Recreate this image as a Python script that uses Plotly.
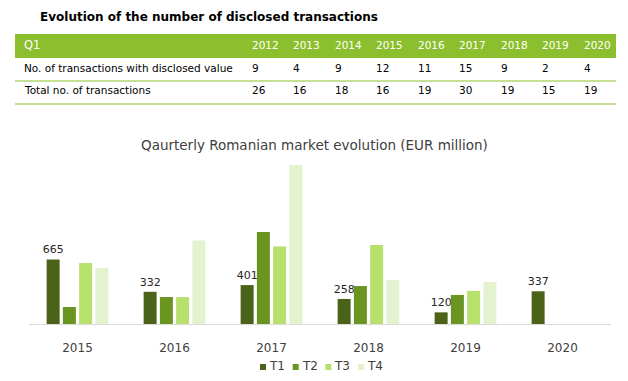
import plotly.graph_objects as go

# ---------------- data ----------------
table_years = ["2012", "2013", "2014", "2015", "2016", "2017", "2018", "2019", "2020"]
disclosed_value = [9, 4, 9, 12, 11, 15, 9, 2, 4]
total_transactions = [26, 16, 18, 16, 19, 30, 19, 15, 19]

chart_years = ["2015", "2016", "2017", "2018", "2019", "2020"]
t1 = [665, 332, 401, 258, 120, 337]
t2 = [175, 278, 948, 391, 299, None]
t3 = [628, 278, 799, 814, 340, None]
t4 = [577, 861, 1638, 453, 432, None]
quarters = ["T1", "T2", "T3", "T4"]
colors = ["#4b6319", "#6b9521", "#b8e06c", "#e4f2cf"]

# ---------------- layout geometry ----------------
W, H = 628, 381
L, R, T, B = 29, 611, 159, 324


def px(x):
    return (x - L) / (R - L)


def py(y):
    return (B - y) / (B - T)


FONT = "DejaVu Sans"
fig = go.Figure()

for name, vals, col in zip(quarters, [t1, t2, t3, t4], colors):
    fig.add_trace(go.Bar(
        x=chart_years, y=vals, name=name, marker=dict(color=col, line=dict(width=0)),
        text=[str(v) if v is not None else "" for v in vals] if name == "T1" else None,
        textposition="outside" if name == "T1" else None,
        textfont=dict(family=FONT, size=11, color="#262626"),
        constraintext="none",
        cliponaxis=False,
        showlegend=False,
    ))

annotations = []
shapes = []

# Table title
annotations.append(dict(x=px(38), y=py(17), xref="paper", yref="paper", xanchor="left", yanchor="middle",
                        text="<b>Evolution of the number of disclosed transactions</b>", showarrow=False,
                        font=dict(family=FONT, size=12, color="#000000")))
# header band
GREEN = "#8cbf2d"
shapes.append(dict(type="rect", xref="paper", yref="paper", x0=px(15), x1=px(616), y0=py(58), y1=py(34),
                   fillcolor=GREEN, line=dict(width=0), layer="below"))
for yline in (81, 104):
    shapes.append(dict(type="line", xref="paper", yref="paper", x0=px(15), x1=px(616), y0=py(yline), y1=py(yline),
                       line=dict(color=GREEN, width=1)))

col_x = [250, 291, 333, 374, 416, 457, 499, 540, 582]
annotations.append(dict(x=px(22), y=py(45), xref="paper", yref="paper", xanchor="left", yanchor="middle",
                        text="Q1", showarrow=False, font=dict(family=FONT, size=11.5, color="white")))
for cx, yr in zip(col_x, table_years):
    annotations.append(dict(x=px(cx), y=py(45), xref="paper", yref="paper", xanchor="left", yanchor="middle",
                            text=yr, showarrow=False, font=dict(family=FONT, size=10.5, color="white")))

rows = [("No. of transactions with disclosed value", disclosed_value, 68),
        ("Total no. of transactions", total_transactions, 90)]
for label, vals, ry in rows:
    annotations.append(dict(x=px(22), y=py(ry), xref="paper", yref="paper", xanchor="left", yanchor="middle",
                            text=label, showarrow=False, font=dict(family=FONT, size=10.5, color="#000000")))
    for cx, v in zip(col_x, vals):
        annotations.append(dict(x=px(cx), y=py(ry), xref="paper", yref="paper", xanchor="left", yanchor="middle",
                                text=str(v), showarrow=False, font=dict(family=FONT, size=10.5, color="#000000")))

# chart title
annotations.append(dict(x=px(314), y=py(145), xref="paper", yref="paper", xanchor="center", yanchor="middle",
                        text="Qaurterly Romanian market evolution (EUR million)", showarrow=False,
                        font=dict(family=FONT, size=13.5, color="#404040")))

# compact legend (small square swatch + label), laid out like the original
leg_x0, leg_pitch, leg_y = 260, 32.7, 366
for i, (name, col) in enumerate(zip(quarters, colors)):
    sx = leg_x0 + i * leg_pitch
    shapes.append(dict(type="rect", xref="paper", yref="paper", x0=px(sx), x1=px(sx + 6),
                       y0=py(leg_y + 4), y1=py(leg_y - 2), fillcolor=col, line=dict(width=0)))
    annotations.append(dict(x=px(sx + 7), y=py(leg_y), xref="paper", yref="paper", xanchor="left",
                            yanchor="middle", text=name, showarrow=False,
                            font=dict(family=FONT, size=12, color="#404040")))

fig.update_layout(
    width=W, height=H, autosize=False,
    margin=dict(l=L, r=W - R, t=T, b=H - B, pad=0, autoexpand=False),
    paper_bgcolor="white", plot_bgcolor="white",
    barmode="group", bargap=0.33, bargroupgap=0.2,
    font=dict(family=FONT, color="#404040"),
    annotations=annotations, shapes=shapes,
    showlegend=False,
    xaxis=dict(showgrid=False, showline=True, linecolor="#d9d9d9", linewidth=1,
               ticks="outside", ticklen=13, tickcolor="rgba(0,0,0,0)",
               tickfont=dict(family=FONT, size=12, color="#404040"), fixedrange=True),
    yaxis=dict(range=[0, 1700], visible=False, showgrid=False, zeroline=False, fixedrange=True),
)

fig.write_html("out.html", config={"displayModeBar": False},
               post_script="document.body.style.margin='0px';document.body.style.overflow='hidden';")
